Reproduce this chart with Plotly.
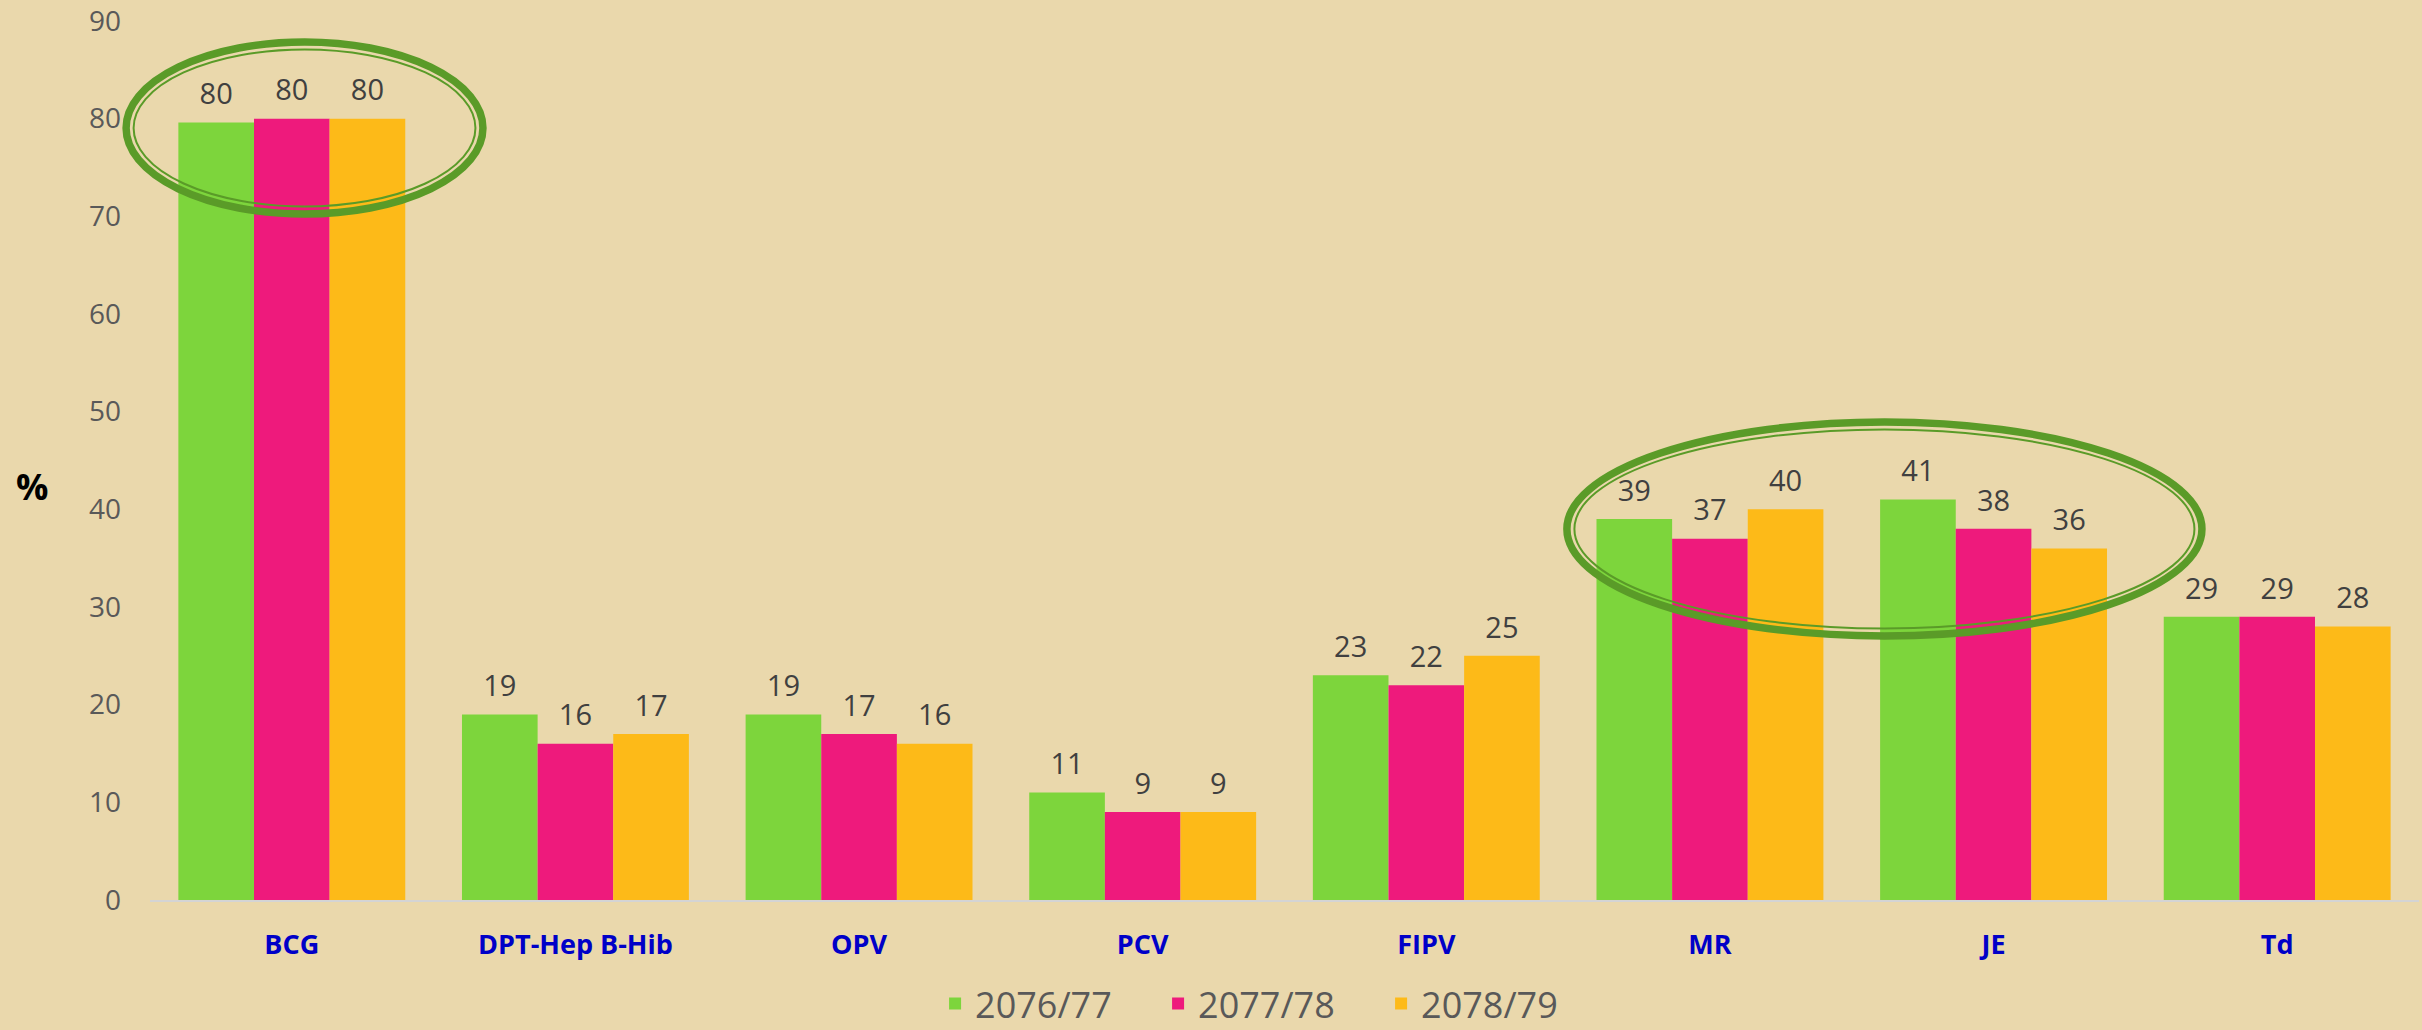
import plotly.graph_objects as go

# ---- data ----
categories = ["BCG", "DPT-Hep B-Hib", "OPV", "PCV", "FIPV", "MR", "JE", "Td"]
series_names = ["2076/77", "2077/78", "2078/79"]
values_2076 = [79.6, 19, 19, 11, 23, 39, 41, 29]
values_2077 = [80, 16, 17, 9, 22, 37, 38, 29]
values_2078 = [80, 17, 16, 9, 25, 40, 36, 28]
y_ticks = [0, 10, 20, 30, 40, 50, 60, 70, 80, 90]

colors = ["#7DD53C", "#EE1A7C", "#FDBA18"]
series_values = [values_2076, values_2077, values_2078]

W, H = 2422, 1030
ML, MR_, MT, MB = 150, 3, 21, 130
BG = "#EAD8AC"
FONT = "Open Sans"

fig = go.Figure()
for name, vals, col in zip(series_names, series_values, colors):
    fig.add_trace(go.Bar(
        x=categories, y=vals, name=name,
        marker=dict(color=col, line=dict(width=0)),
        offsetgroup=name,
    ))
for name, vals in zip(series_names, series_values):
    fig.add_trace(go.Scatter(
        x=categories, y=vals, mode="markers+text",
        text=[f"{v:.0f}" for v in vals], textposition="top center",
        textfont=dict(family=FONT, size=29, color="#404040"),
        marker=dict(size=16, opacity=0),
        offsetgroup=name, showlegend=False, hoverinfo="skip",
        cliponaxis=False,
    ))

# highlight ellipses (double green outline), in paper units (outer edges)
plot_w = W - ML - MR_
plot_h = H - MT - MB
ellipses = [(-0.0123, 0.1485, 0.7759, 0.9807), (0.6227, 0.9061, 0.2958, 0.5484)]
GREEN = "#5A9B28"
shapes = []
for x0, x1, y0, y1 in ellipses:
    for inset, w in [(4, 7.5), (11.5, 2)]:
        shapes.append(dict(
            type="circle", xref="paper", yref="paper",
            x0=x0 + inset / plot_w, x1=x1 - inset / plot_w,
            y0=y0 + inset / plot_h, y1=y1 - inset / plot_h,
            line=dict(color=GREEN, width=w), layer="above",
        ))

fig.update_layout(
    width=W, height=H,
    margin=dict(l=ML, r=MR_, t=MT, b=MB, autoexpand=False),
    paper_bgcolor=BG, plot_bgcolor=BG,
    barmode="group", bargap=0.2, bargroupgap=0,
    scattermode="group", scattergap=0.2,
    font=dict(family=FONT, color="#595959"),
    showlegend=True,
    legend=dict(
        orientation="h", x=0.346, xanchor="left", y=-0.118, yanchor="middle",
        font=dict(family=FONT, size=36, color="#595959"),
        bgcolor="rgba(0,0,0,0)", itemclick=False, itemwidth=30,
        entrywidth=178, entrywidthmode="pixels",
    ),
    xaxis=dict(
        range=[-0.5, len(categories) - 0.5], autorange=False,
        showgrid=False, showline=True, linecolor="#D4D4D4", linewidth=2,
        ticks="", ticklabelstandoff=20,
        tickfont=dict(family=FONT, size=27, color="#0000C8", weight="bold"),
        zeroline=False,
    ),
    yaxis=dict(
        range=[0, 90], autorange=False, tickvals=y_ticks, showgrid=False, showline=False,
        zeroline=False, ticks="", ticklabelstandoff=28,
        tickfont=dict(family=FONT, size=28, color="#595959"),
    ),
    shapes=shapes,
    annotations=[dict(
        text="<b>%</b>", xref="paper", yref="paper", x=-0.052, y=0.470,
        xanchor="center", yanchor="middle", showarrow=False,
        font=dict(family=FONT, size=36, color="#000000"),
    )],
)

fig.write_html("out.html", config={"displayModeBar": False},
               post_script="document.body.style.margin='0';document.body.style.overflow='hidden';")
